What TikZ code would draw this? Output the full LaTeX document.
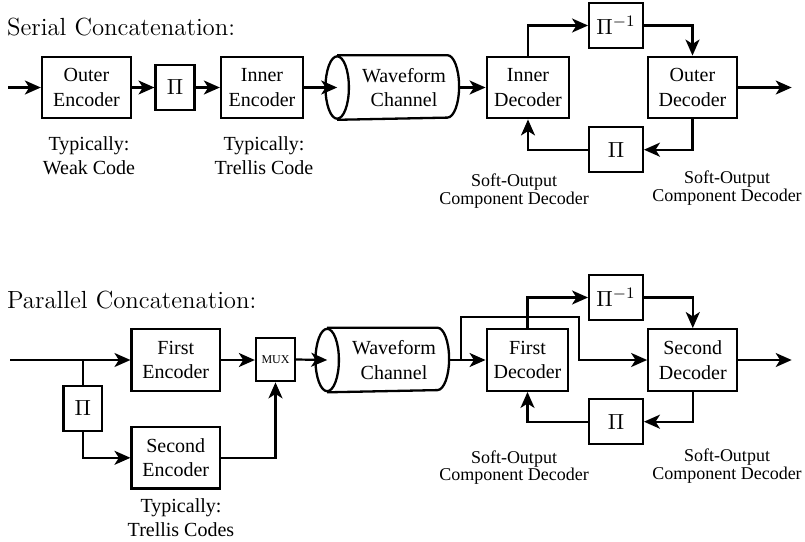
\documentclass[tikz,border=0pt]{standalone}
\usepackage{fontspec}
\setmainfont{Liberation Serif}
\newfontfamily\headfont{Latin Modern Roman}
\usetikzlibrary{arrows.meta,calc}

% waveform channel drawn as a cylinder around a (borderless) node
\newcommand\drawchannel[1]{%
  \draw[line width=1.15pt] ([xshift=-5.85pt]#1.north west) -- ([xshift=-5.85pt]#1.north east)
     arc[start angle=90,end angle=-90,x radius=5.85pt,y radius=15.6pt]
     -- ([xshift=-5.85pt]#1.south west);
  \draw[line width=1.15pt] ([xshift=-5.85pt]#1.west) ellipse[x radius=5.85pt,y radius=15.6pt];}

\begin{document}
\begin{tikzpicture}[x=0.5pt,y=-0.5pt,
  line width=1.1pt,
  >={Stealth[length=8pt,width=7pt,inset=2.2pt]},
  blk/.style={draw, line width=1.15pt, align=center, inner sep=0pt, font=\fontsize{10}{12.2}\selectfont},
  coder/.style={blk, minimum height=30.8pt},
  perm/.style={blk, minimum width=19.4pt, minimum height=22.4pt, font=\fontsize{11}{13}\selectfont},
  chan/.style={align=center, inner sep=0pt, minimum width=54pt, minimum height=31.2pt, font=\fontsize{10}{12.2}\selectfont},
  note/.style={align=center, inner sep=0pt, font=\fontsize{10}{12}\selectfont},
  soft/.style={align=center, inner sep=0pt, font=\fontsize{9}{8.8}\selectfont},
  head/.style={anchor=base west, inner sep=0pt, font=\headfont\fontsize{12.4}{15}\selectfont},
]
\useasboundingbox (0,0) rectangle (805,542);

% ---------------- serial concatenation ----------------
\node[head] (t1) at (6,35) {Serial Concatenation:};
\coordinate (in1) at (8,87.5);
\node[coder, minimum width=44.5pt] (oenc) at (86.5,87.5) {Outer\\Encoder};
\node[perm] (pi1) at (175,87.5) {$\Pi$};
\node[coder, minimum width=41pt] (ienc) at (262,87.5) {Inner\\Encoder};
\node[chan] (ch1) at (404,87.5) {Waveform\\Channel};
\drawchannel{ch1}
\node[coder, minimum width=41.3pt] (idec) at (528,87.5) {Inner\\Decoder};
\node[perm, minimum width=26.8pt] (pinv1) at (616,25.5) {$\Pi^{-1}$};
\node[coder, minimum width=44.5pt] (odec) at (692.5,87.5) {Outer\\Decoder};
\node[perm, minimum width=26.8pt] (pi2) at (616,149.7) {$\Pi$};
\coordinate (out1) at (791.7,87.5);

\node[note] (n1) at (89,156) {Typically:\\Weak Code};
\node[note] (n2) at (264,156) {Typically:\\Trellis Code};
\node[soft] (s1) at (514,191) {Soft-Output\\Component Decoder};
\node[soft] (s2) at (727,188) {Soft-Output\\Component Decoder};

\draw[->] (in1) -- (oenc.west);
\draw[->] (oenc.east) -- (pi1.west);
\draw[->] (pi1.east) -- (ienc.west);
\draw[->] (ienc.east) -- ([xshift=-5.85pt]ch1.west);
\draw[->] (ch1.east) -- (idec.west);
\draw[->] (idec.north) |- (pinv1.west);
\draw[->] (pinv1.east) -| (odec.north);
\draw[->] (odec.south) |- (pi2.east);
\draw[->] (pi2.west) -| (idec.south);
\draw[->] (odec.east) -- (out1);

% ---------------- parallel concatenation ----------------
\node[head] (t2) at (6,308) {Parallel Concatenation:};
\coordinate (in2) at (10,360);
\node[coder, minimum width=44.2pt] (fenc) at (175.8,360) {First\\Encoder};
\node[perm] (pi3) at (82.8,408.3) {$\Pi$};
\node[coder, minimum width=44.2pt] (senc) at (175.8,457.8) {Second\\Encoder};
\node[blk, minimum width=19.5pt, minimum height=21.7pt, font=\fontsize{6}{7}\selectfont] (mux) at (275.5,359.5) {MUX};
\node[chan] (ch2) at (394,360) {Waveform\\Channel};
\drawchannel{ch2}
\node[coder, minimum width=40.8pt] (fdec) at (527.5,360) {First\\Decoder};
\node[perm, minimum width=26.8pt] (pinv2) at (616,297.5) {$\Pi^{-1}$};
\node[coder, minimum width=44.5pt] (sdec) at (692.8,360) {Second\\Decoder};
\node[perm, minimum width=26.8pt] (pi4) at (616,421.7) {$\Pi$};
\coordinate (tapA) at (461,360);
\coordinate (tapB) at (579.3,317);
\coordinate (out2) at (791.7,360);

\node[note] (n3) at (181,518) {Typically:\\Trellis Codes};
\node[soft] (s3) at (514,467.5) {Soft-Output\\Component Decoder};
\node[soft] (s4) at (727,466) {Soft-Output\\Component Decoder};

\draw[->] (in2) -- (fenc.west);
\draw (pi3.north) -- (pi3.north |- in2);
\draw[->] (pi3.south) |- (senc.west);
\draw[->] (fenc.east) -- (fenc.east -| mux.west);
\draw[->] (senc.east) -| (mux.south);
\draw[->] (mux.east) -- ([xshift=-5.85pt]ch2.west);
\draw[->] (ch2.east) -- (fdec.west);
\draw[->] (tapA) |- (tapB) |- (sdec.west);
\draw[->] (fdec.north) |- (pinv2.west);
\draw[->] (pinv2.east) -| (sdec.north);
\draw[->] (sdec.south) |- (pi4.east);
\draw[->] (pi4.west) -| (fdec.south);
\draw[->] (sdec.east) -- (out2);
\end{tikzpicture}
\end{document}
